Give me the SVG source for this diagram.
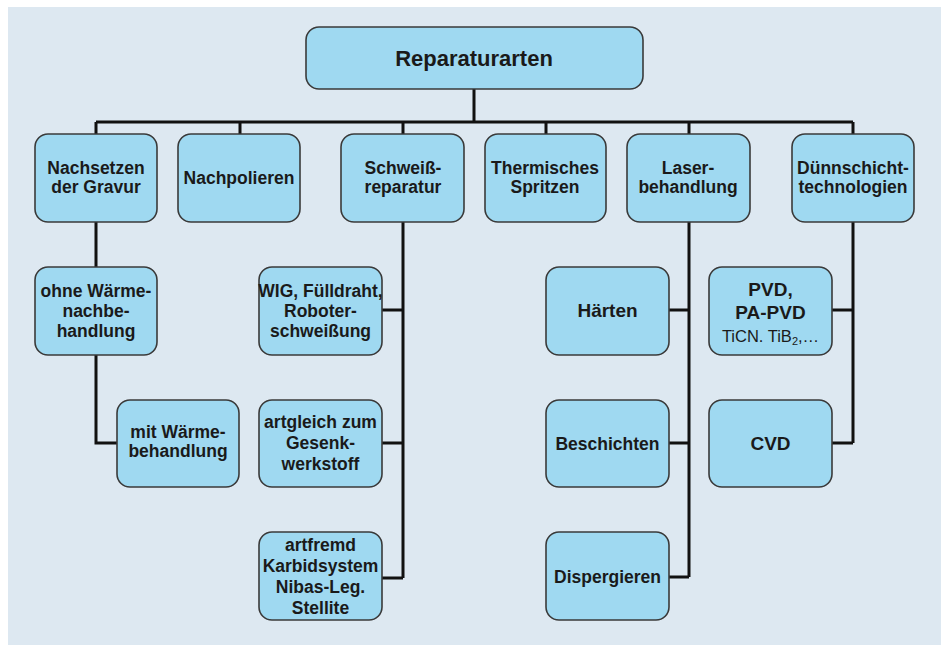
<svg xmlns="http://www.w3.org/2000/svg" width="941" height="650" viewBox="0 0 941 650">
<defs>
<style>
.box{fill:#9fd9f1;stroke:#3a3a3a;stroke-width:1.6}
.t{font-family:"Liberation Sans",Arial,sans-serif;font-weight:bold;font-size:17.5px;fill:#1a1a1a;text-anchor:middle}
.big{font-size:19px}
.reg{font-weight:normal;font-size:16.5px}
.c{fill:none;stroke:#111;stroke-width:3}
</style>
</defs>
<rect x="0" y="0" width="941" height="650" fill="#ffffff"/>
<rect x="8" y="7" width="933" height="638" fill="#dde8f1"/>

<g id="connectors">
<path class="c" d="M474 89V122M96 122H853M96 122V134M240 122V134M403 122V134M546 122V134M689 122V134M853 122V134"/>
<path class="c" d="M96 222V267M96 355V443H117"/>
<path class="c" d="M403 222V578M382 310H403M382 443H403M382 578H403"/>
<path class="c" d="M689 222V577M669 310H689M669 443H689M669 577H689"/>
<path class="c" d="M853 222V443M832 310H853M832 443H853"/>
</g>

<g id="root"><rect class="box" x="306" y="27" width="337" height="62" rx="13"/><text class="t" x="474" y="66" style="font-size:22px">Reparaturarten</text></g>

<g id="nachsetzen"><rect class="box" x="35" y="134" width="122" height="88" rx="13"/><text class="t" x="96" y="174">Nachsetzen</text><text class="t" x="96" y="193">der Gravur</text></g>
<g id="nachpolieren"><rect class="box" x="178" y="134" width="122" height="88" rx="13"/><text class="t" x="239" y="184">Nachpolieren</text></g>
<g id="schweiss"><rect class="box" x="341" y="134" width="123" height="88" rx="13"/><text class="t" x="403" y="174">Schweiß-</text><text class="t" x="403" y="193">reparatur</text></g>
<g id="thermisch"><rect class="box" x="485" y="134" width="121" height="88" rx="13"/><text class="t" x="545" y="174">Thermisches</text><text class="t" x="545" y="193">Spritzen</text></g>
<g id="laser"><rect class="box" x="627" y="134" width="123" height="88" rx="13"/><text class="t" x="688" y="174">Laser-</text><text class="t" x="688" y="193">behandlung</text></g>
<g id="duennschicht"><rect class="box" x="792" y="134" width="122" height="88" rx="13"/><text class="t" x="853" y="174">Dünnschicht-</text><text class="t" x="853" y="193">technologien</text></g>

<g id="ohne"><rect class="box" x="35" y="267" width="122" height="88" rx="13"/><text class="t" x="96" y="297">ohne Wärme-</text><text class="t" x="96" y="317">nachbe-</text><text class="t" x="96" y="337">handlung</text></g>
<g id="mit"><rect class="box" x="117" y="400" width="122" height="87" rx="13"/><text class="t" x="178" y="438">mit Wärme-</text><text class="t" x="178" y="457">behandlung</text></g>

<g id="wig"><rect class="box" x="259" y="267" width="123" height="88" rx="13"/><text class="t" x="320.5" y="297">WIG, Fülldraht,</text><text class="t" x="320.5" y="317">Roboter-</text><text class="t" x="320.5" y="337">schweißung</text></g>
<g id="artgleich"><rect class="box" x="259" y="400" width="123" height="87" rx="13"/><text class="t" x="320.5" y="428">artgleich zum</text><text class="t" x="320.5" y="449">Gesenk-</text><text class="t" x="320.5" y="470">werkstoff</text></g>
<g id="artfremd"><rect class="box" x="259" y="532" width="123" height="88" rx="13"/><text class="t" x="320.5" y="551">artfremd</text><text class="t" x="320.5" y="572">Karbidsystem</text><text class="t" x="320.5" y="593">Nibas-Leg.</text><text class="t" x="320.5" y="614">Stellite</text></g>

<g id="haerten"><rect class="box" x="546" y="267" width="123" height="88" rx="13"/><text class="t big" x="607.5" y="317">Härten</text></g>
<g id="beschichten"><rect class="box" x="546" y="400" width="123" height="87" rx="13"/><text class="t" x="607.5" y="450">Beschichten</text></g>
<g id="dispergieren"><rect class="box" x="546" y="532" width="123" height="88" rx="13"/><text class="t" x="607.5" y="583">Dispergieren</text></g>

<g id="pvd"><rect class="box" x="709" y="267" width="123" height="88" rx="13"/><text class="t big" x="770.5" y="296">PVD,</text><text class="t big" x="770.5" y="319">PA-PVD</text><text class="t reg" x="770.5" y="342">TiCN. TiB<tspan font-size="11" dy="3">2</tspan><tspan dy="-3">,…</tspan></text></g>
<g id="cvd"><rect class="box" x="709" y="400" width="123" height="87" rx="13"/><text class="t big" x="770.5" y="450">CVD</text></g>
</svg>
